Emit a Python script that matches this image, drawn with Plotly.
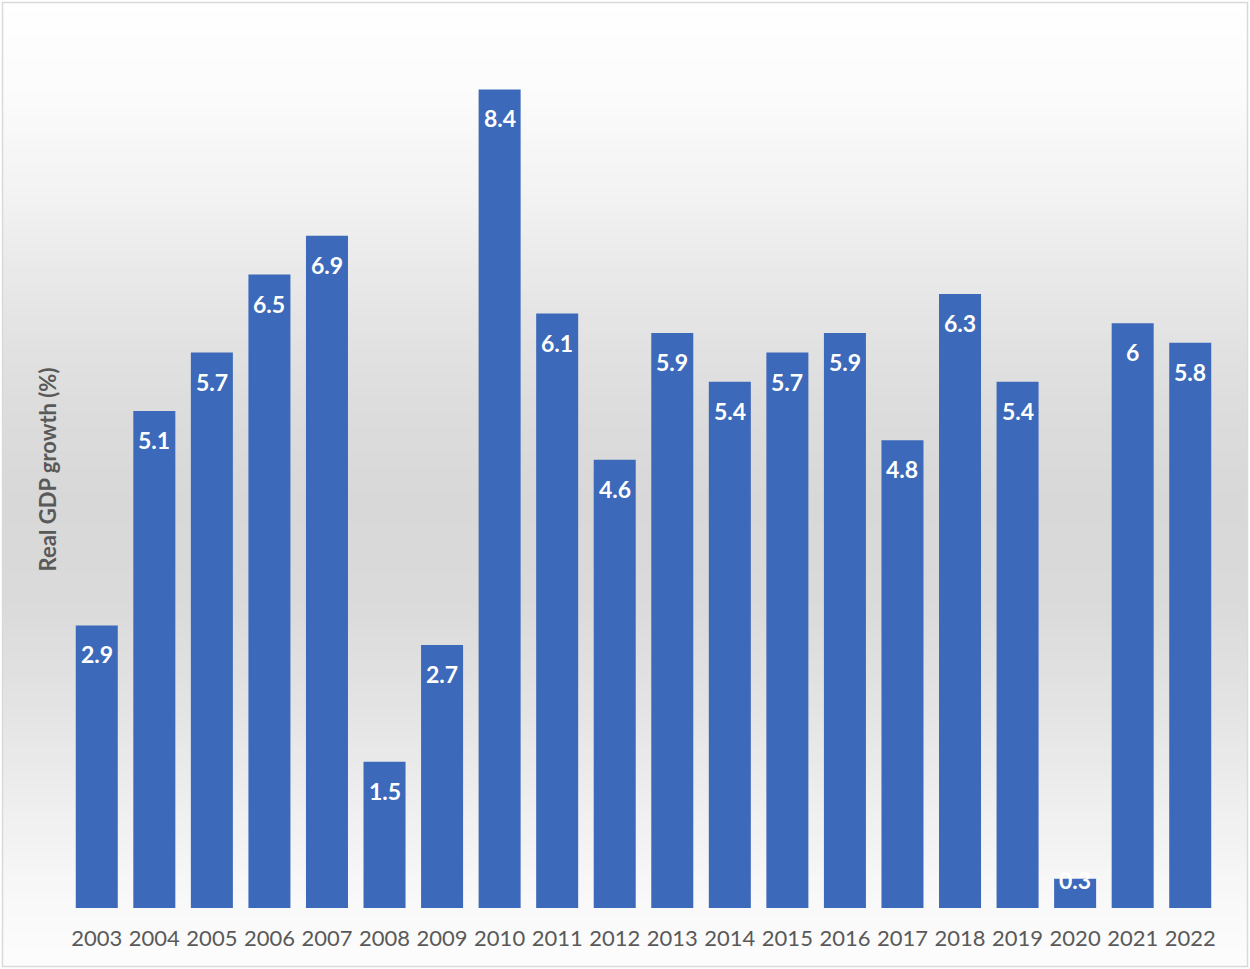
import plotly.graph_objects as go

years = [str(y) for y in range(2003, 2023)]
growth = [2.9, 5.1, 5.7, 6.5, 6.9, 1.5, 2.7, 8.4, 6.1, 4.6, 5.9, 5.4, 5.7, 5.9, 4.8, 6.3, 5.4, 0.3, 6, 5.8]
labels = ["2.9", "5.1", "5.7", "6.5", "6.9", "1.5", "2.7", "8.4", "6.1", "4.6", "5.9", "5.4", "5.7", "5.9", "4.8", "6.3", "5.4", "0.3", "6", "5.8"]

W, H = 1250, 969
ML, MR, MT, MB = 68, 31, 31, 61
PW, PH = W - ML - MR, H - MT - MB
YMAX = 9

def px_x(p):
    return (p - ML) / PW

def px_y(p):
    return (H - MB - p) / PH

fig = go.Figure()
fig.add_trace(go.Bar(
    x=years, y=growth,
    marker=dict(color="#3d69ba", line=dict(width=0)),
    hoverinfo="x+y",
))

# background vertical gradient (pixel row -> grey level)
stops = [(0, 255), (100, 251), (200, 242), (300, 230), (400, 221), (500, 216),
         (600, 218), (700, 227), (800, 238), (880, 247), (969, 253)]

def grey_at(p):
    for (a, ga), (b, gb) in zip(stops, stops[1:]):
        if a <= p <= b:
            return ga + (gb - ga) * (p - a) / (b - a)
    return 255

shapes = []
band = 8
top, bottom, left, right = 3, 966, 3, 1247
p = top
while p < bottom:
    q = min(p + band, bottom)
    g = int(round(grey_at((p + q) / 2)))
    shapes.append(dict(type="rect", xref="paper", yref="paper",
                       x0=px_x(left), x1=px_x(right), y0=px_y(q), y1=px_y(p),
                       fillcolor=f"rgb({g},{g},{g})", line=dict(width=0), layer="below"))
    p = q
# border
shapes.append(dict(type="rect", xref="paper", yref="paper",
                   x0=px_x(2.5), x1=px_x(1247.5), y0=px_y(966.5), y1=px_y(2.5),
                   line=dict(color="#d9d9d9", width=1.5), fillcolor="rgba(0,0,0,0)", layer="above"))

# data labels: inside end; short bars push label up so it stays above the baseline
annotations = []
for i, (v, t) in enumerate(zip(growth, labels)):
    h_px = v * PH / YMAX
    shift = -min(29, max(h_px - 28, -2))
    annotations.append(dict(x=i, y=v, xref="x", yref="y", text=f"<b>{t}</b>",
                            showarrow=False, yanchor="middle", yshift=shift,
                            font=dict(family="Lato, sans-serif", size=23, color="white")))

fig.update_layout(
    width=W, height=H,
    margin=dict(l=ML, r=MR, t=MT, b=MB),
    paper_bgcolor="white",
    plot_bgcolor="rgba(0,0,0,0)",
    bargap=0.27,
    showlegend=False,
    shapes=shapes,
    annotations=annotations,
    font=dict(family="Lato, sans-serif", color="#595959"),
    xaxis=dict(type="category", showgrid=False, zeroline=False, showline=False,
               tickfont=dict(size=22, color="#595959"), ticklabelstandoff=15,
               range=[-0.5, 19.5]),
    yaxis=dict(range=[0, YMAX], showgrid=False, zeroline=False, showline=False,
               showticklabels=False, automargin=False,
               title=dict(text="<b>Real GDP growth (%)</b>", standoff=4,
                          font=dict(size=22, color="#595959"))),
)

fig.write_html("out.html")
